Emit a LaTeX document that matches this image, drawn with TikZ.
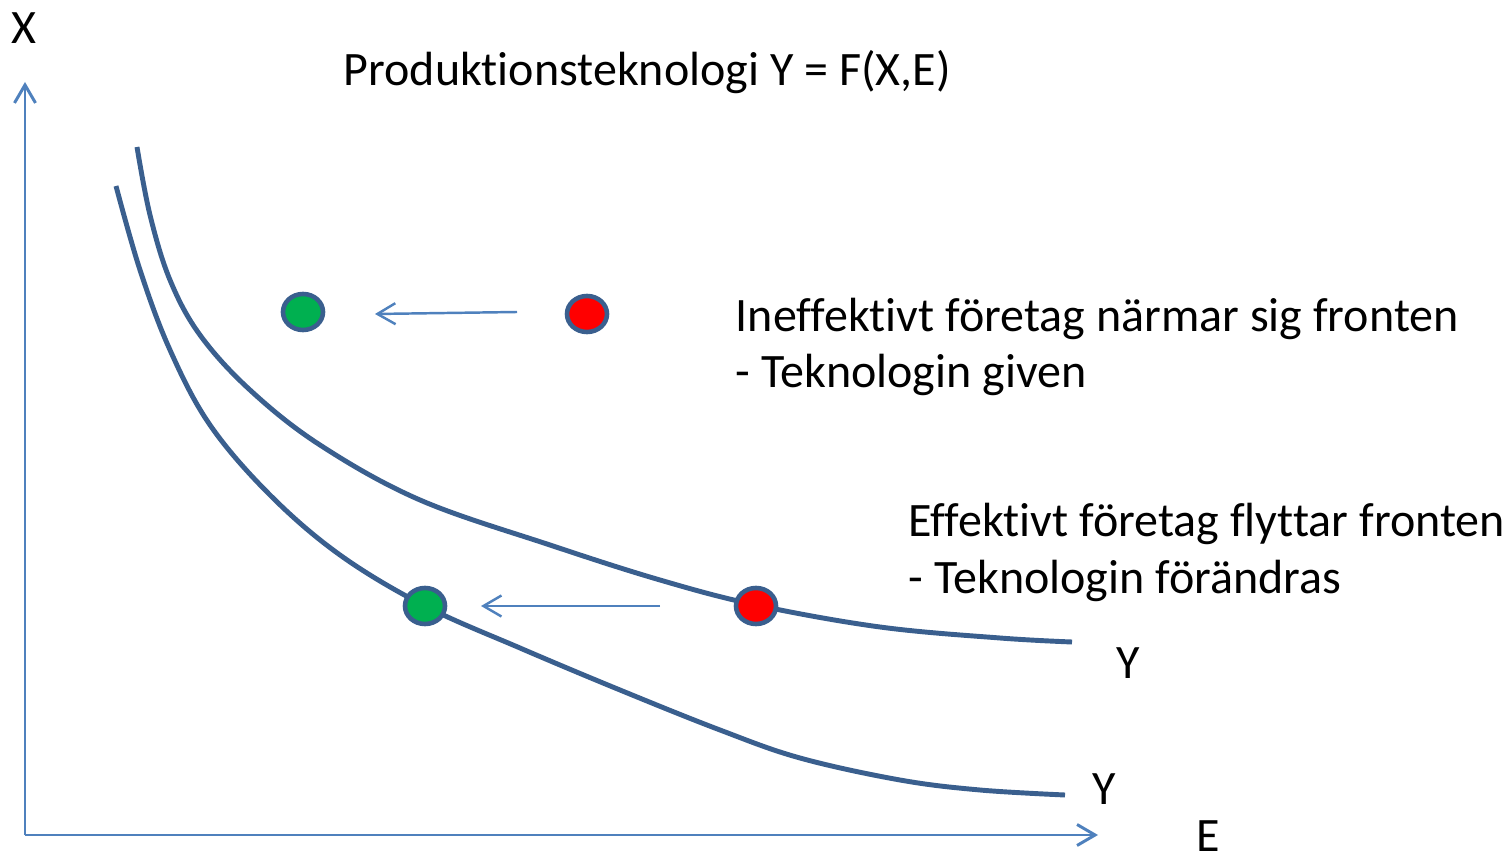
\documentclass[tikz,border=0pt]{standalone}
\usepackage{fontspec}
\setmainfont{Carlito}[Ligatures={NoCommon}]
\usetikzlibrary{arrows.meta,shapes.geometric}
\definecolor{axisblue}{HTML}{4F81BD}
\definecolor{curveblue}{HTML}{3A5F8E}
\definecolor{dotgreen}{HTML}{00B050}
\definecolor{dotred}{HTML}{FF0000}
\tikzset{
  txt/.style={inner sep=0pt, font=\fontsize{13.65}{16}\selectfont, text=black},
  axisline/.style={draw=axisblue, line width=0.85pt, -{Straight Barb[length=1.8mm, width=2.1mm, line width=0.85pt]}},
  moveline/.style={draw=axisblue, line width=0.7pt, -{Straight Barb[length=1.8mm, width=2.1mm, line width=0.7pt]}},
  curve/.style={draw=curveblue, line width=1.4pt},
  dot/.style={ellipse, draw=curveblue, line width=1.3pt, minimum width=0.4cm, minimum height=0.36cm, inner sep=0pt},
}
\begin{document}
\begin{tikzpicture}[x=0.01cm, y=-0.01cm]
\useasboundingbox (0,0) rectangle (1506,852);
% axes
\coordinate (O) at (25,835);
\coordinate (Xtip) at (25,82);
\coordinate (Etip) at (1098,835);
\draw[axisline] (O) -- (Xtip);
\draw[axisline] (O) -- (Etip);
% curves
\draw[curve] plot[smooth, tension=0.6] coordinates {(137,147) (150,215) (170,280) (200,335) (250,390) (320,445) (420,500) (550,545) (660,580) (756,605) (880,627) (1000,638) (1072,642)};
\draw[curve] plot[smooth, tension=0.6] coordinates {(116,186) (140,270) (170,350) (210,425) (270,495) (340,555) (425,606) (520,648) (620,690) (720,730) (800,758) (900,780) (980,790) (1065,795)};
% dots
\node[dot, fill=dotgreen] (g1) at (303,312) {};
\node[dot, fill=dotred] (r1) at (587,314) {};
\node[dot, fill=dotgreen] (g2) at (425,606) {};
\node[dot, fill=dotred] (r2) at (756,606) {};
% arrows
\coordinate (a1s) at (517,312);
\coordinate (a1e) at (375,314);
\coordinate (a2s) at (660,606);
\coordinate (a2e) at (481,606);
\draw[moveline] (a1s) -- (a1e);
\draw[moveline] (a2s) -- (a2e);
% texts
\node[txt, anchor=base] (xl) at (23.5,44) {X};
\node[txt, anchor=base] (el) at (1208,851) {E};
\node[txt, anchor=base] (y1) at (1128,678) {Y};
\node[txt, anchor=base] (y2) at (1104,804) {Y};
\node[txt, anchor=base west] (title) at (343,86) {Produktionsteknologi Y = F(X,E)};
\node[txt, anchor=base west] (i1) at (735,332) {Ineffektivt företag närmar sig fronten};
\node[txt, anchor=base west] (i2) at (735,388) {- Teknologin given};
\node[txt, anchor=base west] (e1) at (908,537) {Effektivt företag flyttar fronten};
\node[txt, anchor=base west] (e2) at (908,593) {- Teknologin förändras};
\end{tikzpicture}
\end{document}
